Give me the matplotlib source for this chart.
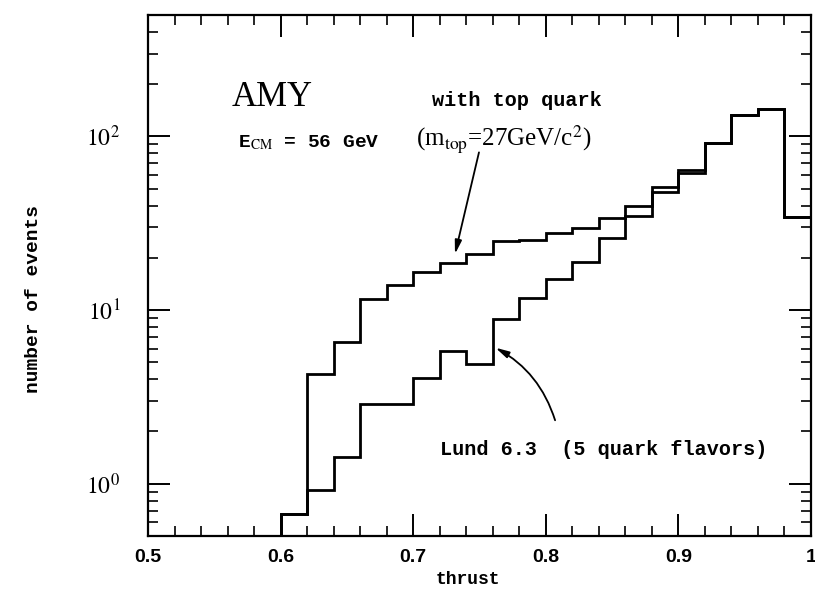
import matplotlib
matplotlib.use('Agg')
import matplotlib.pyplot as plt
import numpy as np
from matplotlib.ticker import FixedLocator, FixedFormatter, MultipleLocator, LogLocator, NullFormatter

plt.rcParams['mathtext.fontset'] = 'stix'

# thrust bins, 0.02 wide from 0.60 to 1.00
edges = np.linspace(0.60, 1.00, 21)

# events per thrust bin, Lund with top quark (m_top = 27 GeV/c^2)
with_top = [0.67, 4.26, 6.57, 11.6, 14.0, 16.5, 18.7, 21.1, 24.9, 25.4,
            27.8, 29.6, 33.7, 34.6, 47.7, 61.8, 91.8, 133, 144, 34.2]

# events per thrust bin, Lund 6.3 with 5 quark flavors
five_flavors = [0.67, 0.925, 1.43, 2.87, 2.87, 4.06, 5.83, 4.91, 8.89, 11.7,
                15.0, 18.9, 25.9, 40.0, 50.9, 63.8, 91.8, 133, 144, 34.2]

xticks = [0.5, 0.6, 0.7, 0.8, 0.9, 1.0]
xtick_labels = ['0.5', '0.6', '0.7', '0.8', '0.9', '1']
yticks = [1, 10, 100]
ytick_labels = [r'$10^0$', r'$10^1$', r'$10^2$']

mono = dict(family='Liberation Mono', weight='bold')

fig = plt.figure(figsize=(8.15, 5.93), dpi=100)
ax = fig.add_axes([0.1816, 0.0961, 0.8135, 0.8786])

for vals in (with_top, five_flavors):
    ax.stairs(vals, edges, baseline=0.1, color='black', lw=2.0)

ax.set_yscale('log')
ax.set_xlim(0.5, 1.0)
ax.set_ylim(0.5, 500)

ax.xaxis.set_major_locator(FixedLocator(xticks))
ax.xaxis.set_major_formatter(FixedFormatter(xtick_labels))
ax.xaxis.set_minor_locator(MultipleLocator(0.02))
ax.yaxis.set_major_locator(FixedLocator(yticks))
ax.yaxis.set_major_formatter(FixedFormatter(ytick_labels))
ax.yaxis.set_minor_locator(LogLocator(base=10, subs=np.arange(2, 10)))
ax.yaxis.set_minor_formatter(NullFormatter())

ax.tick_params(which='both', direction='in', top=True, right=True, color='black')
ax.tick_params(which='major', length=16, width=1.4)
ax.tick_params(which='minor', length=7, width=1.2)
ax.tick_params(axis='x', pad=9)
ax.tick_params(axis='y', pad=20, labelsize=17)
for lab in ax.get_xticklabels():
    lab.set_fontfamily('Liberation Sans')
    lab.set_fontweight('bold')
    lab.set_fontsize(14)
for sp in ax.spines.values():
    sp.set_linewidth(1.6)

ax.set_xlabel('thrust', fontsize=13, **mono)
ax.xaxis.set_label_coords(0.483, -0.068)
ax.set_ylabel('number of events', fontsize=14, **mono)
ax.yaxis.set_label_coords(-0.16, 0.455)

# labels and arrows
ax.text(0.563, 149, 'AMY', family='Liberation Serif', fontsize=25, va='baseline')
ax.text(0.568, 92.4, r'E$_{\rm CM}$ = 56 GeV', fontsize=14, va='center', **mono)
ax.text(0.778, 162, 'with top quark', fontsize=14.5, ha='center', va='center', **mono)
ax.text(0.768, 97, r'(m$_{\rm top}$=27GeV/c$^2$)', family='Liberation Serif',
        fontsize=18, ha='center', va='center')
ax.annotate('', xy=(0.7315, 21.0), xytext=(0.7496, 80.9),
            arrowprops=dict(arrowstyle='-|>,head_length=0.8,head_width=0.2',
                            lw=1.3, color='black', shrinkA=0, shrinkB=0))
ax.text(0.720, 1.57, 'Lund 6.3  (5 quark flavors)', fontsize=14.5, ha='left', va='center', **mono)
ax.annotate('', xy=(0.762, 6.07), xytext=(0.807, 2.32),
            arrowprops=dict(arrowstyle='-|>,head_length=0.8,head_width=0.2',
                            lw=1.3, color='black', shrinkA=0, shrinkB=0,
                            connectionstyle='arc3,rad=0.2'))

fig.savefig('out.png', dpi=100)
